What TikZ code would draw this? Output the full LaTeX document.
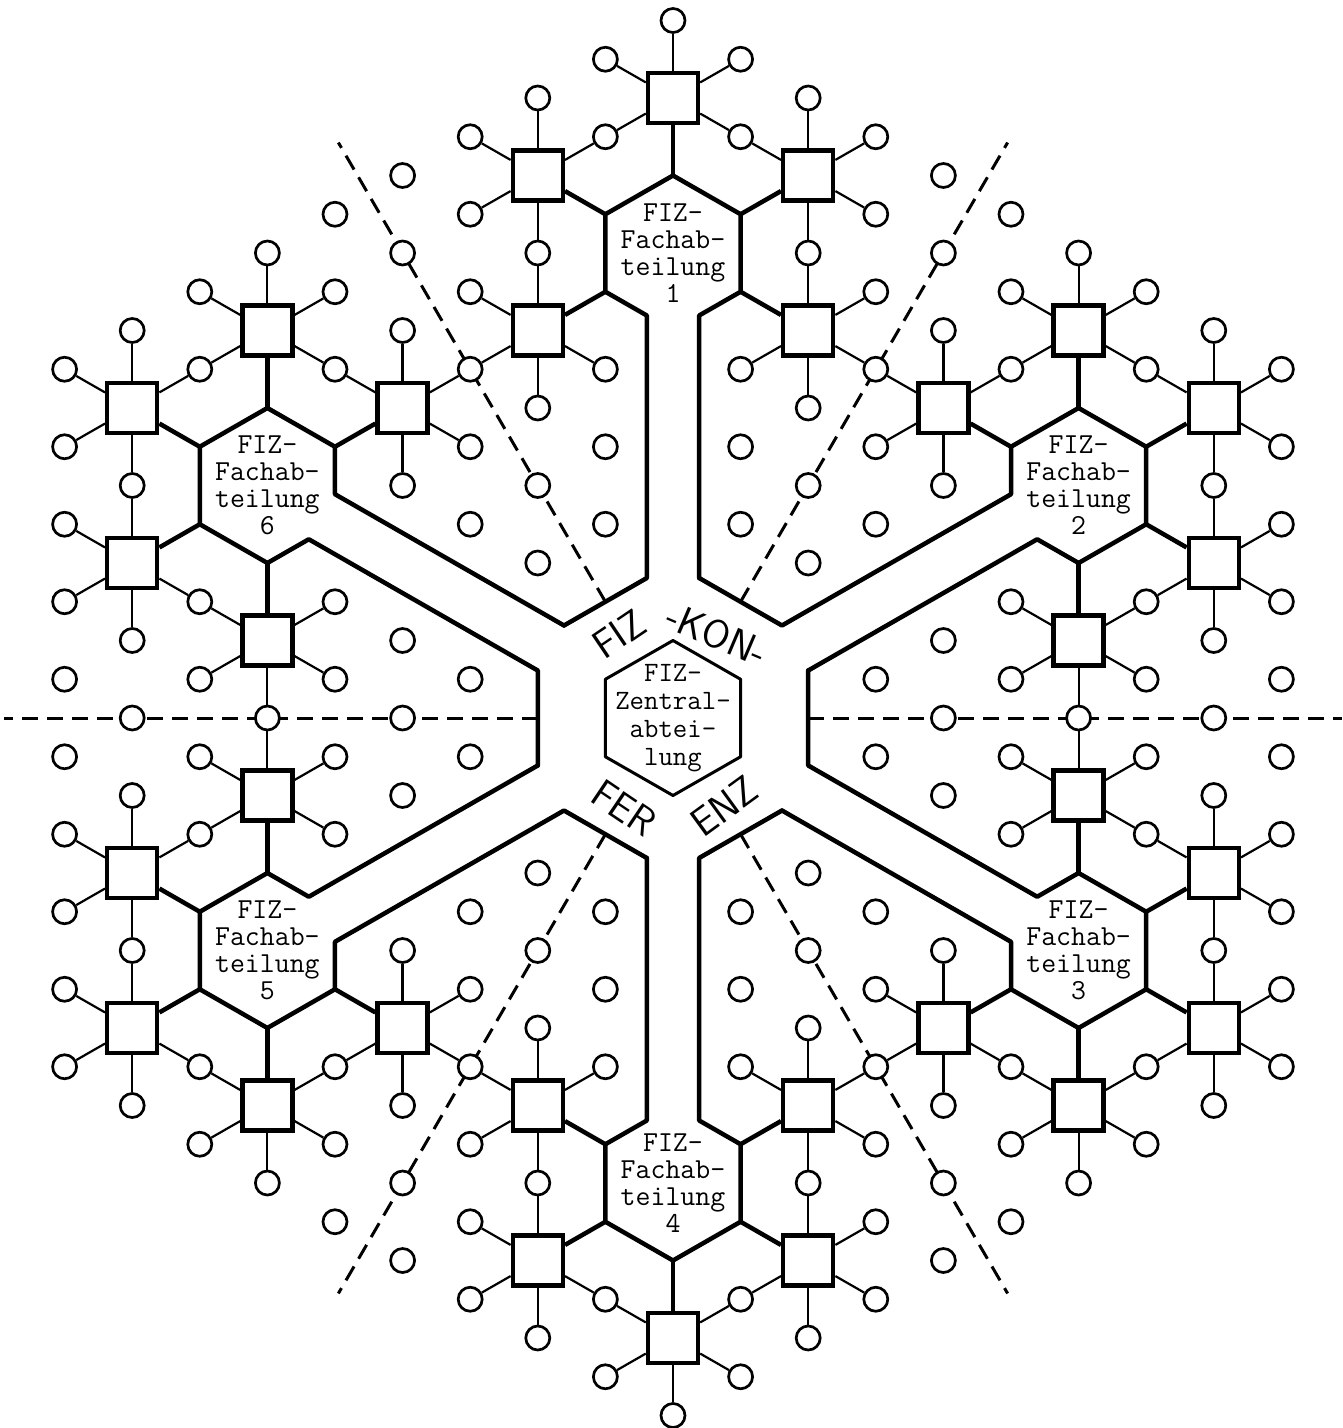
\documentclass[tikz,border=0pt]{standalone}
\usepackage{fontspec}
\usetikzlibrary{calc}

% Gitterrichtungen 30, 90, 150, 210, 270, 330 Grad
\def\DI{{1,0,-1,-1,0,1}}
\def\DJ{{0,1,1,0,-1,-1}}

\begin{document}
\begin{tikzpicture}[x={(67.6pt,38.75pt)}, y={(0pt,77.5pt)},
    wall/.style={line width=4.5pt, line join=round, line cap=round},
    arm/.style={line width=4.5pt},
    spoke/.style={line width=2.2pt},
    divider/.style={line width=3pt, dash pattern=on 16pt off 9pt},
    station/.style={draw, line width=4.4pt, fill=white, minimum size=50pt, inner sep=0pt},
    satellite/.style={circle, draw, line width=2.7pt, fill=white, minimum size=24pt, inner sep=0pt},
    hexlabel/.style={align=center, inner sep=0pt, font=\ttfamily\fontsize{29}{27}\selectfont},
    ringtext/.style={inner sep=0pt, font=\sffamily\fontsize{40}{40}\selectfont}
]
\useasboundingbox (-673pt,-710pt) rectangle (670pt,718pt);

% -------- Trennlinien zwischen den Sektoren --------
\foreach \w in {0,...,5} {
  \pgfmathtruncatemacro\wq{mod(\w+5,6)}
  \pgfmathtruncatemacro\bi{\DI[\w]+\DI[\wq]}
  \pgfmathtruncatemacro\bj{\DJ[\w]+\DJ[\wq]}
  \coordinate (t\w a) at (\bi,\bj);
  \coordinate (t\w b) at (4.95*\bi,4.95*\bj);
  \draw[divider] (t\w a) -- (t\w b);
}

% -------- Ecken der Fachabteilungen und Wandpunkte --------
\foreach \m in {0,...,5} {
  \pgfmathtruncatemacro\hi{6*\DI[\m]}
  \pgfmathtruncatemacro\hj{6*\DJ[\m]}
  \coordinate (h\m) at (\hi,\hj);
  \foreach \n in {0,...,5} {
    \pgfmathtruncatemacro\vi{\hi+\DI[\n]}
    \pgfmathtruncatemacro\vj{\hj+\DJ[\n]}
    \coordinate (v\m-\n) at (\vi,\vj);
  }
  \pgfmathtruncatemacro\dA{mod(\m+5,6)}
  \pgfmathtruncatemacro\dB{mod(\m+4,6)}
  \pgfmathtruncatemacro\dC{mod(\m+1,6)}
  \pgfmathtruncatemacro\dD{mod(\m+2,6)}
  \pgfmathtruncatemacro\dE{mod(\m+3,6)}
  \pgfmathsetmacro\fai{1.806*\DI[\m]+0.1937*(\DI[\dA]+\DI[\dB])}
  \pgfmathsetmacro\faj{1.806*\DJ[\m]+0.1937*(\DJ[\dA]+\DJ[\dB])}
  \pgfmathsetmacro\fbi{1.806*\DI[\m]+0.1937*(\DI[\dC]+\DI[\dD])}
  \pgfmathsetmacro\fbj{1.806*\DJ[\m]+0.1937*(\DJ[\dC]+\DJ[\dD])}
  \coordinate (fa\m) at (\fai,\faj);
  \coordinate (fb\m) at (\fbi,\fbj);
  \coordinate (wa\m) at ($(v\m-\dE)!0.3874!(v\m-\dB)$);
  \coordinate (wb\m) at ($(v\m-\dE)!0.3874!(v\m-\dD)$);
}

% -------- Waende: Fachabteilung, Kanal, Stirnseite --------
\foreach \m in {0,...,5} {
  \pgfmathtruncatemacro\dB{mod(\m+4,6)}
  \pgfmathtruncatemacro\dF{mod(\m+5,6)}
  \pgfmathtruncatemacro\dC{mod(\m+1,6)}
  \pgfmathtruncatemacro\dD{mod(\m+2,6)}
  \draw[wall] (fa\m) -- (wa\m) -- (v\m-\dB) -- (v\m-\dF) -- (v\m-\m)
    -- (v\m-\dC) -- (v\m-\dD) -- (wb\m) -- (fb\m) -- (fa\dC);
}

% -------- Zentralabteilung --------
\draw[line width=3pt, line join=round] (1,0) -- (0,1) -- (-1,1) -- (-1,0) -- (0,-1) -- (1,-1) -- cycle;
\node[hexlabel, font=\ttfamily\fontsize{28}{28}\selectfont] (zentral) at (0,0) {FIZ-\\Zentral-\\abtei-\\lung};

% -------- Stellen (Quadrate) mit Anschluessen (Kreise) --------
\foreach \m/\lab in {1/1,0/2,5/3,4/4,3/5,2/6} {
  \pgfmathtruncatemacro\hi{6*\DI[\m]}
  \pgfmathtruncatemacro\hj{6*\DJ[\m]}
  \pgfmathtruncatemacro\gap{mod(\m+3,6)}
  \node[hexlabel] (fach\lab) at (h\m) {FIZ-\\Fachab-\\teilung\\\lab};
  \foreach \n in {0,...,5} {
    \ifnum\n=\gap\relax\else
      \pgfmathtruncatemacro\si{\hi+2*\DI[\n]}
      \pgfmathtruncatemacro\sj{\hj+2*\DJ[\n]}
      \pgfmathtruncatemacro\opp{mod(\n+3,6)}
      \node[station] (q\lab-\n) at (\si,\sj) {};
      \draw[arm] (v\m-\n) -- (q\lab-\n);
      \foreach \p in {0,...,5} {
        \ifnum\p=\opp\relax\else
          \pgfmathtruncatemacro\ti{\si+\DI[\p]}
          \pgfmathtruncatemacro\tj{\sj+\DJ[\p]}
          \ifcsname pgf@sh@ns@c\ti y\tj\endcsname\else
            \node[satellite] (c\ti y\tj) at (\ti,\tj) {};
          \fi
          \draw[spoke] (q\lab-\n) -- (c\ti y\tj);
        \fi
      }
    \fi
  }
}

% -------- freie Kreise in den Sektoren --------
\foreach \w in {0,...,5} {
  \pgfmathtruncatemacro\wq{mod(\w+5,6)}
  \pgfmathtruncatemacro\ci{2*(\DI[\w]+\DI[\wq])}
  \pgfmathtruncatemacro\cj{2*(\DJ[\w]+\DJ[\wq])}
  \node[satellite] (f\w-0) at (\ci,\cj) {};
  \foreach \dir [count=\rr] in {1,4,2,3} {
    \pgfmathtruncatemacro\dd{mod(\w+\dir,6)}
    \pgfmathtruncatemacro\ti{\ci+\DI[\dd]}
    \pgfmathtruncatemacro\tj{\cj+\DJ[\dd]}
    \node[satellite] (f\w-\rr) at (\ti,\tj) {};
  }
  \node[satellite] (g\w-0) at (2*\ci,2*\cj) {};
  \foreach \dir [count=\rr] in {0,5} {
    \pgfmathtruncatemacro\dd{mod(\w+\dir,6)}
    \pgfmathtruncatemacro\ti{2*\ci+\DI[\dd]}
    \pgfmathtruncatemacro\tj{2*\cj+\DJ[\dd]}
    \node[satellite] (g\w-\rr) at (\ti,\tj) {};
  }
}

% -------- Ringschrift --------
\node[ringtext, rotate=34] (ring1) at (-54pt,84pt) {FIZ};
\node[ringtext, rotate=-23] (ring2) at (44pt,84pt) {-KON-};
\node[ringtext, rotate=-34] (ring3) at (-49pt,-90pt) {FER};
\node[ringtext, rotate=36] (ring4) at (51pt,-88pt) {ENZ};
\end{tikzpicture}
\end{document}
